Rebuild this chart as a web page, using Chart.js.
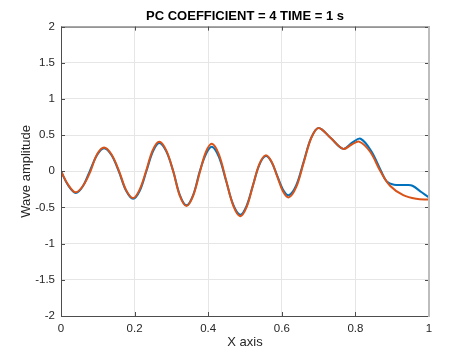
<!DOCTYPE html>
<html>
<head>
<meta charset="utf-8">
<script src="https://cdn.jsdelivr.net/npm/chart.js@4"></script>
<style>
  body { margin: 0; background: #fff; }
  canvas { display: block; }
</style>
</head>
<body>
<canvas id="waveChart" width="474" height="355"></canvas>
<script>
// blue curve (drawn underneath)
const blueX = [0, 0.020, 0.040, 0.059, 0.078, 0.098, 0.117, 0.137, 0.157, 0.177, 0.196, 0.214, 0.232, 0.250, 0.267, 0.286, 0.305, 0.323, 0.341, 0.359, 0.377, 0.394, 0.410, 0.429, 0.4485, 0.468, 0.487, 0.504, 0.5215, 0.539, 0.556, 0.572, 0.5875, 0.603, 0.619, 0.639, 0.6595, 0.680, 0.700, 0.733, 0.767, 0.792, 0.814, 0.843, 0.870, 0.885, 0.905, 0.940, 0.955, 0.980, 1.0];
const blueY = [0, -0.20, -0.30, -0.21, 0, 0.225, 0.32, 0.225, 0, -0.27, -0.38, -0.27, 0, 0.275, 0.39, 0.275, 0, -0.33, -0.47, -0.33, 0, 0.24, 0.34, 0.20, -0.13, -0.46, -0.60, -0.48, -0.195, 0.09, 0.21, 0.13, -0.06, -0.25, -0.33, -0.195, 0.135, 0.465, 0.60, 0.46, 0.31, 0.40, 0.45, 0.28, 0, -0.14, -0.185, -0.19, -0.20, -0.29, -0.36];

// orange curve (on top)
const orangeX = [0, 0.020, 0.040, 0.060, 0.080, 0.098, 0.117, 0.137, 0.158, 0.177, 0.196, 0.213, 0.231, 0.249, 0.267, 0.286, 0.305, 0.323, 0.341, 0.359, 0.378, 0.394, 0.410, 0.429, 0.4485, 0.468, 0.487, 0.504, 0.5215, 0.539, 0.556, 0.572, 0.5875, 0.603, 0.619, 0.639, 0.6595, 0.680, 0.700, 0.733, 0.767, 0.790, 0.810, 0.840, 0.868, 0.894, 0.930, 0.965, 1.0];
const orangeY = [0, -0.19, -0.29, -0.20, 0, 0.235, 0.33, 0.235, 0, -0.26, -0.37, -0.26, 0, 0.29, 0.41, 0.29, 0, -0.34, -0.48, -0.34, 0, 0.27, 0.38, 0.234, -0.12, -0.474, -0.62, -0.50, -0.20, 0.10, 0.22, 0.135, -0.07, -0.275, -0.36, -0.22, 0.12, 0.46, 0.60, 0.46, 0.31, 0.37, 0.41, 0.27, 0, -0.20, -0.33, -0.38, -0.39];

const xTicks = [0, 0.2, 0.4, 0.6, 0.8, 1];
const yTicks = [-2, -1.5, -1, -0.5, 0, 0.5, 1, 1.5, 2];

const fontFamily = '"Liberation Sans", Arial, Helvetica, sans-serif';

function toPoints(xs, ys) {
    return xs.map((x, i) => ({x: x, y: ys[i]}));
}

// axes box and inward tick marks, matlab style
const boxPlugin = {
    id: 'boxPlugin',
    afterDatasetsDraw(chart) {
        const {ctx, chartArea: a, scales} = chart;
        ctx.save();
        ctx.lineWidth = 1;
        ctx.strokeStyle = '#4d4d4d';
        ctx.beginPath();
        ctx.moveTo(a.left + 0.5, a.top + 0.5);
        ctx.lineTo(a.right, a.top + 0.5);
        ctx.moveTo(a.left + 0.5, a.top);
        ctx.lineTo(a.left + 0.5, a.bottom + 0.5);
        ctx.lineTo(a.right, a.bottom + 0.5);
        const len = 4;
        xTicks.forEach(v => {
            const px = Math.round(scales.x.getPixelForValue(v)) + 0.5;
            ctx.moveTo(px, a.bottom);
            ctx.lineTo(px, a.bottom - len);
            ctx.moveTo(px, a.top);
            ctx.lineTo(px, a.top + len);
        });
        yTicks.forEach(v => {
            const py = Math.round(scales.y.getPixelForValue(v)) + 0.5;
            ctx.moveTo(a.left, py);
            ctx.lineTo(a.left + len, py);
            ctx.moveTo(a.right, py);
            ctx.lineTo(a.right - len, py);
        });
        ctx.stroke();
        ctx.strokeStyle = '#bdbdbd';
        ctx.lineWidth = 2;
        ctx.beginPath();
        ctx.moveTo(a.right, a.top);
        ctx.lineTo(a.right, a.bottom + 1);
        ctx.stroke();
        ctx.restore();
    }
};

const ctx = document.getElementById('waveChart').getContext('2d');
const waveChart = new Chart(ctx, {
    type: 'line',
    data: {
        datasets: [{
            label: 'exact',
            data: toPoints(blueX, blueY),
            borderColor: '#0072BD',
            borderWidth: 2,
            pointRadius: 0,
            tension: 0.35,
            order: 2
        }, {
            label: 'approx',
            data: toPoints(orangeX, orangeY),
            borderColor: '#D95319',
            borderWidth: 2,
            pointRadius: 0,
            tension: 0.35,
            order: 1
        }]
    },
    options: {
        responsive: false,
        animation: false,
        layout: {padding: {left: 0, right: 45, top: 0, bottom: 0}},
        plugins: {
            legend: {display: false},
            tooltip: {enabled: false},
            title: {
                display: true,
                text: 'PC COEFFICIENT = 4 TIME = 1 s',
                fullSize: false,
                color: '#000',
                font: {family: fontFamily, size: 13, weight: 'bold'},
                padding: {top: 9, bottom: 2}
            }
        },
        scales: {
            x: {
                type: 'linear',
                min: 0,
                max: 1,
                afterFit: s => { s.height = 39; },
                afterBuildTicks: s => { s.ticks = xTicks.map(v => ({value: v})); },
                grid: {color: '#e6e6e6', drawTicks: false},
                border: {display: false},
                ticks: {
                    color: '#262626',
                    padding: 6,
                    maxRotation: 0,
                    callback: v => String(v),
                    font: {family: fontFamily, size: 11.5}
                },
                title: {
                    display: true,
                    text: 'X axis',
                    color: '#262626',
                    font: {family: fontFamily, size: 13},
                    padding: {top: 0, bottom: 5}
                }
            },
            y: {
                type: 'linear',
                min: -2,
                max: 2,
                afterFit: s => { s.width = 61; },
                afterBuildTicks: s => { s.ticks = yTicks.map(v => ({value: v})); },
                grid: {color: '#e6e6e6', drawTicks: false},
                border: {display: false},
                ticks: {
                    color: '#262626',
                    padding: 6,
                    callback: v => String(v),
                    font: {family: fontFamily, size: 11.5}
                },
                title: {
                    display: true,
                    text: 'Wave amplitude',
                    color: '#262626',
                    font: {family: fontFamily, size: 13},
                    padding: {top: 19, bottom: 0}
                }
            }
        }
    },
    plugins: [boxPlugin]
});
</script>
</body>
</html>
